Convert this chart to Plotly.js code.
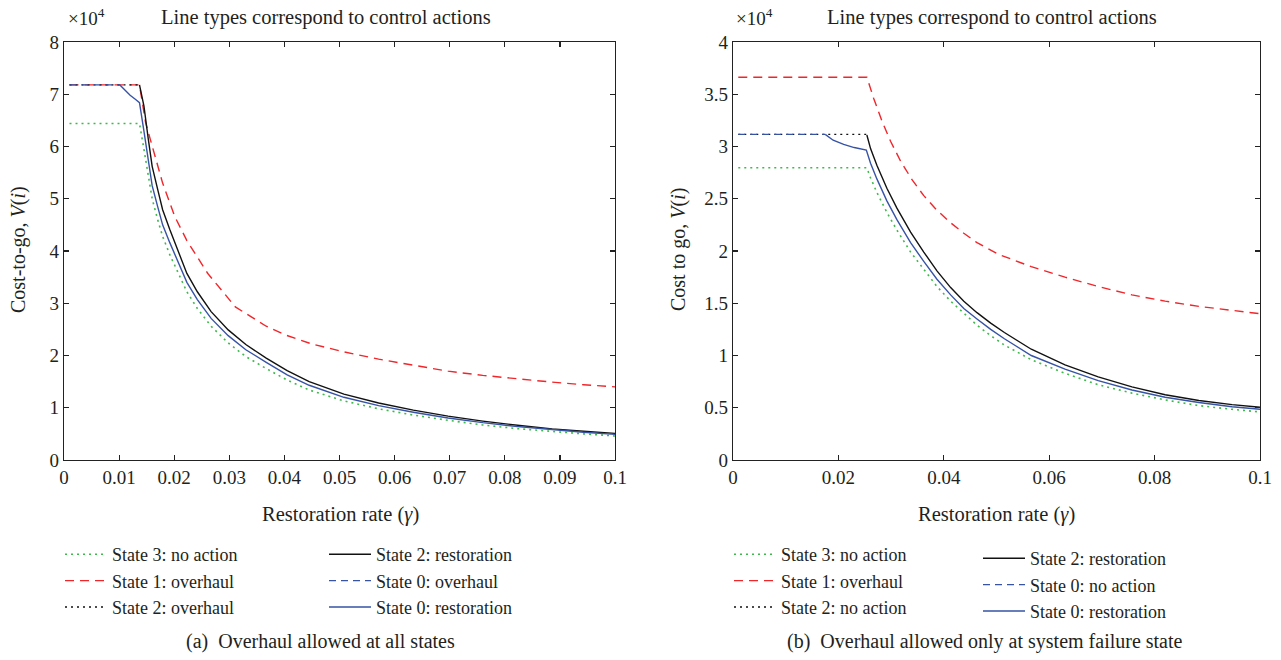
<!DOCTYPE html>
<html><head><meta charset="utf-8">
<script src="https://cdn.plot.ly/plotly-3.0.1.min.js"></script>
<style>html,body{margin:0;padding:0;background:#fff}#chart{width:1281px;height:660px}</style>
</head><body><div id="chart"></div>
<script>
// ---------- Panel (a): Overhaul allowed at all states (values x10^4) ----------
const a_s3_noaction_x = [0.001,0.0137,0.0145,0.0153,0.016,0.017,0.0179,0.0192,0.0208,0.0223,0.0242,0.0267,0.0298,0.033,0.0367,0.0405,0.0445,0.0508,0.0571,0.0634,0.0697,0.076,0.0823,0.0886,0.0943,0.1];
const a_s3_noaction_y = [6.44,6.44,5.95,5.45,5.0,4.6,4.28,3.93,3.56,3.22,2.9,2.56,2.24,1.98,1.75,1.53,1.34,1.13,0.98,0.86,0.76,0.67,0.6,0.54,0.5,0.46];

const a_s1_overhaul_x = [0.001,0.0137,0.0148,0.0164,0.0179,0.0201,0.0223,0.0261,0.0311,0.0367,0.04,0.045,0.0508,0.0571,0.0634,0.0697,0.076,0.0823,0.0886,0.0943,0.1];
const a_s1_overhaul_y = [7.18,7.18,6.46,5.88,5.3,4.66,4.2,3.57,2.93,2.56,2.4,2.22,2.07,1.93,1.81,1.7,1.62,1.55,1.49,1.44,1.4];

const a_s2_overhaul_x = [0.001,0.0137];
const a_s2_overhaul_y = [7.18,7.18];

const a_s2_restor_x = [0.0137,0.0145,0.0153,0.016,0.017,0.0179,0.0192,0.0208,0.0223,0.0242,0.0267,0.0298,0.033,0.0367,0.0405,0.0445,0.0508,0.0571,0.0634,0.0697,0.076,0.0823,0.0886,0.0943,0.1];
const a_s2_restor_y = [7.18,6.78,6.14,5.62,5.18,4.79,4.41,3.96,3.57,3.22,2.84,2.49,2.21,1.95,1.71,1.5,1.26,1.09,0.955,0.84,0.745,0.665,0.595,0.55,0.51];

const a_s0_overhaul_x = [0.001,0.0101];
const a_s0_overhaul_y = [7.18,7.18];

const a_s0_restor_x = [0.0101,0.011,0.012,0.013,0.0137,0.0145,0.0153,0.016,0.017,0.0179,0.0192,0.0208,0.0223,0.0242,0.0267,0.0298,0.033,0.0367,0.0405,0.0445,0.0508,0.0571,0.0634,0.0697,0.076,0.0823,0.0886,0.0943,0.1];
const a_s0_restor_y = [7.18,7.08,6.98,6.9,6.84,6.3,5.75,5.25,4.85,4.5,4.16,3.76,3.4,3.07,2.71,2.38,2.11,1.87,1.63,1.43,1.2,1.04,0.915,0.805,0.715,0.64,0.575,0.53,0.49];

// ---------- Panel (b): Overhaul allowed only at system failure state ----------
const b_s3_noaction_x = [0.001,0.0254,0.0261,0.0273,0.0292,0.0311,0.0337,0.0362,0.0387,0.0413,0.0438,0.0463,0.0489,0.0515,0.0566,0.063,0.0693,0.0757,0.082,0.0884,0.0947,0.1];
const b_s3_noaction_y = [2.796,2.796,2.7,2.56,2.37,2.2,1.99,1.82,1.66,1.52,1.4,1.29,1.19,1.1,0.96,0.83,0.72,0.64,0.575,0.52,0.485,0.46];

const b_s1_overhaul_x = [0.001,0.0254,0.0267,0.0283,0.0299,0.0318,0.034,0.0362,0.0387,0.0413,0.0438,0.0463,0.0503,0.0566,0.063,0.0693,0.0757,0.082,0.0884,0.0947,0.1];
const b_s1_overhaul_y = [3.663,3.663,3.46,3.24,3.05,2.86,2.68,2.53,2.39,2.27,2.17,2.08,1.97,1.85,1.75,1.66,1.58,1.52,1.47,1.43,1.4];

const b_s2_noaction_x = [0.001,0.0254];
const b_s2_noaction_y = [3.116,3.116];

const b_s2_restor_x = [0.0254,0.0261,0.0273,0.0292,0.0311,0.0337,0.0362,0.0387,0.0413,0.0438,0.0463,0.0489,0.0515,0.0566,0.063,0.0693,0.0757,0.082,0.0884,0.0947,0.1];
const b_s2_restor_y = [3.11,2.98,2.82,2.6,2.41,2.18,1.99,1.81,1.65,1.52,1.41,1.31,1.22,1.06,0.91,0.795,0.7,0.625,0.57,0.53,0.505];

const b_s0_noaction_x = [0.001,0.0175];
const b_s0_noaction_y = [3.116,3.116];

const b_s0_restor_x = [0.0175,0.019,0.021,0.023,0.0253,0.0261,0.0273,0.0292,0.0311,0.0337,0.0362,0.0387,0.0413,0.0438,0.0463,0.0489,0.0515,0.0566,0.063,0.0693,0.0757,0.082,0.0884,0.0947,0.1];
const b_s0_restor_y = [3.116,3.06,3.02,2.99,2.966,2.84,2.69,2.48,2.3,2.08,1.9,1.73,1.58,1.45,1.35,1.25,1.16,1.0,0.87,0.76,0.67,0.6,0.55,0.51,0.485];

// tick labels
const a_xticks = [0,0.01,0.02,0.03,0.04,0.05,0.06,0.07,0.08,0.09,0.1];
const a_xlabels = ["0","0.01","0.02","0.03","0.04","0.05","0.06","0.07","0.08","0.09","0.1"];
const a_yticks = [0,1,2,3,4,5,6,7,8];
const b_xticks = [0,0.02,0.04,0.06,0.08,0.1];
const b_xlabels = ["0","0.02","0.04","0.06","0.08","0.1"];
const b_yticks = [0,0.5,1,1.5,2,2.5,3,3.5,4];
const b_ylabels = ["0","0.5","1","1.5","2","2.5","3","3.5","4"];

const FONT = '"Liberation Serif", "DejaVu Serif", serif';
const TXT = "#231f20";
const GREEN = "#3dbb4a", RED = "#f0262b", BLUE = "#3653a6", BLACK = "#111111";
const DOT = "2px,4px", DASH = "9px,6px", BDASH = "7px,5px";

function tr(x,y,name,color,dash,width,xa,ya,leg){
  return {x:x,y:y,name:name,type:'scatter',mode:'lines',xaxis:xa,yaxis:ya,legend:leg,
          line:{color:color,dash:dash,width:width},hoverinfo:'skip'};
}
const data = [
  tr(a_s3_noaction_x,a_s3_noaction_y,"State 3: no action",GREEN,DOT,1.6,'x','y','legend'),
  tr(a_s1_overhaul_x,a_s1_overhaul_y,"State 1: overhaul",RED,DASH,1.4,'x','y','legend'),
  tr(a_s2_overhaul_x,a_s2_overhaul_y,"State 2: overhaul",BLACK,DOT,1.3,'x','y','legend'),
  tr(a_s2_restor_x,a_s2_restor_y,"State 2: restoration",BLACK,'solid',1.4,'x','y','legend2'),
  tr(a_s0_overhaul_x,a_s0_overhaul_y,"State 0: overhaul",BLUE,BDASH,1.4,'x','y','legend2'),
  tr(a_s0_restor_x,a_s0_restor_y,"State 0: restoration",BLUE,'solid',1.4,'x','y','legend2'),

  tr(b_s3_noaction_x,b_s3_noaction_y,"State 3: no action",GREEN,DOT,1.6,'x2','y2','legend3'),
  tr(b_s1_overhaul_x,b_s1_overhaul_y,"State 1: overhaul",RED,DASH,1.4,'x2','y2','legend3'),
  tr(b_s2_noaction_x,b_s2_noaction_y,"State 2: no action",BLACK,DOT,1.3,'x2','y2','legend3'),
  tr(b_s2_restor_x,b_s2_restor_y,"State 2: restoration",BLACK,'solid',1.4,'x2','y2','legend4'),
  tr(b_s0_noaction_x,b_s0_noaction_y,"State 0: no action",BLUE,BDASH,1.4,'x2','y2','legend4'),
  tr(b_s0_restor_x,b_s0_restor_y,"State 0: restoration",BLUE,'solid',1.4,'x2','y2','legend4')
];

const W=1281,H=660;
function px(x){return x/W;} function py(y){return 1-y/H;}
function axis(extra){
  return Object.assign({showgrid:false,zeroline:false,showline:true,linecolor:'#222',linewidth:1.3,
    mirror:'ticks',ticks:'inside',ticklen:5,tickwidth:1.2,tickcolor:'#222',
    tickfont:{family:FONT,size:19,color:TXT},fixedrange:true},extra);
}
function leg(x,y){
  return {x:px(x),y:py(y),xanchor:'left',yanchor:'top',bgcolor:'rgba(0,0,0,0)',borderwidth:0,
          font:{family:FONT,size:18,color:TXT},tracegroupgap:0,itemwidth:42,traceorder:'normal'};
}
function ann(text,x,y,size,extra){
  return Object.assign({text:text,x:px(x),y:py(y),xref:'paper',yref:'paper',showarrow:false,
    xanchor:'center',yanchor:'middle',font:{family:FONT,size:size,color:TXT}},extra||{});
}
const layout = {
  width:W,height:H,margin:{l:0,r:0,t:0,b:0},paper_bgcolor:'#fff',plot_bgcolor:'#fff',
  showlegend:true,
  xaxis: axis({domain:[px(64),px(615)],range:[0,0.1],tickvals:a_xticks,ticktext:a_xlabels,anchor:'y'}),
  yaxis: axis({domain:[1-460/H,1-42/H],range:[0,8],tickvals:a_yticks,anchor:'x'}),
  xaxis2: axis({domain:[px(733),px(1260)],range:[0,0.1],tickvals:b_xticks,ticktext:b_xlabels,anchor:'y2'}),
  yaxis2: axis({domain:[1-460/H,1-42/H],range:[0,4],tickvals:b_yticks,ticktext:b_ylabels,anchor:'x2'}),
  legend: leg(60,536), legend2: leg(324,536), legend3: leg(729,536), legend4: leg(978,540),
  annotations:[
    ann("Line types correspond to control actions",326,18,20.5),
    ann("Line types correspond to control actions",992,18,20.5),
    ann("×10<sup>4</sup>",86,17,19),
    ann("×10<sup>4</sup>",754,17,19),
    ann("Cost-to-go, <i>V</i>(<i>i</i>)",18,250,20,{textangle:-90}),
    ann("Cost to go, <i>V</i>(<i>i</i>)",678,250,20,{textangle:-90}),
    ann("Restoration rate (<i>γ</i>)",340,514,20.5),
    ann("Restoration rate (<i>γ</i>)",996,514,20.5),
    ann("(a)&nbsp;&nbsp;Overhaul allowed at all states",320,641,20),
    ann("(b)&nbsp;&nbsp;Overhaul allowed only at system failure state",985,641,20)
  ]
};
Plotly.newPlot('chart',data,layout,{displayModeBar:false,staticPlot:true});
</script></body></html>
